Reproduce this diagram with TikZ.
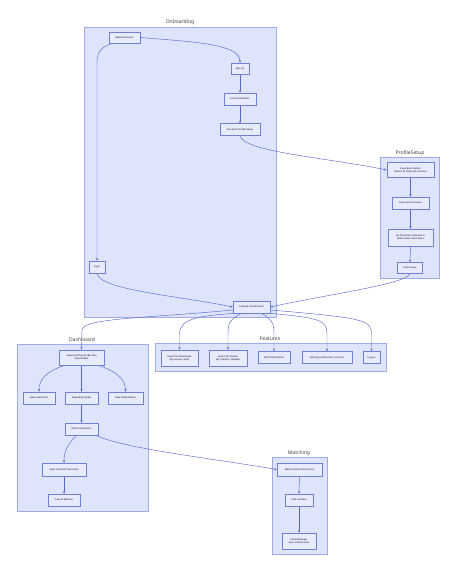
\documentclass[tikz,border=0pt]{standalone}
\usepackage{fontspec}
\setmainfont{Noto Sans}
\usetikzlibrary{arrows.meta,calc}
\definecolor{clfill}{RGB}{221,228,251}
\definecolor{cldraw}{RGB}{160,172,232}
\definecolor{ndfill}{RGB}{231,236,252}
\definecolor{nddraw}{RGB}{112,128,214}
\definecolor{edgec}{RGB}{88,104,204}
\pgfdeclarelayer{clusterl}
\pgfdeclarelayer{edgel}
\pgfsetlayers{clusterl,edgel,main}
\newcommand\mbx[5]{\node[box,minimum width=#3pt,minimum height=#4pt] (#1) at (#2) {#5};}
\begin{document}
\begin{tikzpicture}[x=1pt,y=-1pt,
  cluster/.style={draw=cldraw,fill=clfill,line width=0.6pt},
  ctitle/.style={font=\fontsize{5}{6}\selectfont,text=black!75,inner sep=0.4pt},
  box/.style={draw=nddraw,fill=ndfill,line width=0.5pt,font=\bfseries\fontsize{2.3}{2.9}\selectfont,align=center,inner sep=0pt},
  edge/.style={draw=edgec,line width=0.45pt,-{Stealth[length=2.6pt,width=2.2pt]}}]
\useasboundingbox (0,0) rectangle (458,573);
% clusters
\begin{pgfonlayer}{clusterl}
\fill[white] (0,0) rectangle (458,573);
\draw[cluster] (84,27) rectangle (276,317);
\draw[cluster] (380,157) rectangle (439,278);
\draw[cluster] (155,343) rectangle (386,371);
\draw[cluster] (17,344) rectangle (148,511);
\draw[cluster] (272,457) rectangle (327,554);
\end{pgfonlayer}
% nodes: Onboarding
\mbx{welcome}{124.5,37.5}{31}{11}{Welcome Screen}
\mbx{signup}{240,68.5}{18}{11}{Sign Up}
\mbx{email}{240,99}{32}{12}{Email Verification}
\mbx{pps}{240,129.5}{40}{12}{Proceed to Profile Setup}
\mbx{login}{97,267}{16}{12}{Login}
\mbx{dash}{251.5,307}{37}{12}{Proceed to Dashboard}
% ProfileSetup
\mbx{input}{410.5,170}{47}{15}{Input Basic Details\\(Name, ID, Major, Bio, Picture)}
\mbx{courses}{410.5,203}{37}{12}{Select Active Courses}
\mbx{prefs}{410.5,237.5}{45}{17}{Set Teammate Preferences\\(Skills, Roles, Work Style)}
\mbx{finish}{410,268}{25}{11}{Finish Setup}
% Features
\mbx{st}{179.5,358}{37}{16}{Search for Teammates\\(by courses, skills)}
\mbx{sf}{228,358}{38}{16}{Search for Friends\\(by interests, hobbies)}
\mbx{edit}{274,357.5}{32}{12}{Edit Profile Details}
\mbx{settings}{327,357.5}{50}{12}{Settings (notifications, account)}
\mbx{logout}{371.5,357.5}{17}{12}{Logout}
% Dashboard
\mbx{swipe}{81.5,357.5}{45}{15}{Swipe Interface (Tinder-like)\\View Profiles}
\mbx{left}{39,398}{32}{12}{Swipe Left (Pass)}
\mbx{right}{81.5,398}{33}{12}{Swipe Right (Like)}
\mbx{vpd}{125.5,398}{35}{12}{View Profile Details}
\mbx{matchn}{81.5,429}{33}{12}{Match Notification}
\mbx{chat}{64,469.5}{44}{13}{Open Chat with Teammate}
\mbx{all}{64,500}{32}{12}{View All Matches}
% Matching
\mbx{conf}{299.5,469.5}{45}{13}{Match Confirmation Screen}
\mbx{ci}{299,500}{28}{12}{Chat Interface}
\mbx{send}{299,541}{34}{16}{Send Messages\\(text, attachments)}
% titles
\node[ctitle] (tonb) at (180,22) {Onboarding};
\node[ctitle] (tps) at (410,153) {ProfileSetup};
\node[ctitle] (tfeat) at (270,339) {Features};
\node[ctitle,fill=white] (tdash) at (82,340) {Dashboard};
\node[ctitle] (tmatch) at (299,453) {Matching};
% edges
\begin{pgfonlayer}{edgel}
\draw[edge] (welcome.east) .. controls (195,42) and (240,44) .. (signup.north);
\draw[edge] (signup.south) -- (email.north);
\draw[edge] (email.south) -- (pps.north);
\draw[edge] ($(welcome.south)+(-12,0)$) .. controls (104,46) and (97,50) .. (97,62) -- (login.north);
\draw[edge] (login.south) .. controls (99,290) and (180,296) .. (dash.west);
\draw[edge] (pps.south) .. controls (243,152) and (330,158) .. (input.west);
\draw[edge] (input.south) -- (courses.north);
\draw[edge] (courses.south) -- (prefs.north);
\draw[edge] (prefs.south) -- (finish.north);
\draw[edge] (finish.south) .. controls (406,284) and (330,294) .. (dash.east);
\draw[edge] ($(dash.west)+(0,3)$) .. controls (150,318) and (82,318) .. (82,330) -- (swipe.north);
\draw[edge] ($(dash.south west)+(2,0)$) .. controls (200,316) and (179.5,318) .. (179.5,334) -- (st.north);
\draw[edge] ($(dash.south)+(-10,0)$) .. controls (230,320) and (228,322) .. (228,334) -- (sf.north);
\draw[edge] ($(dash.south)+(10,0)$) .. controls (272,320) and (274,322) .. (274,334) -- (edit.north);
\draw[edge] ($(dash.south east)+(-1,0)$) .. controls (320,318) and (327,320) .. (327,334) -- (settings.north);
\draw[edge] ($(dash.east)+(0,3)$) .. controls (365,318) and (371.5,320) .. (371.5,334) -- (logout.north);
\draw[edge] ($(swipe.south west)+(6,0)$) .. controls (45,372) and (39,380) .. (left.north);
\draw[edge] (swipe.south) -- (right.north);
\draw[edge] ($(swipe.south east)+(-6,0)$) .. controls (118,372) and (125.5,380) .. (vpd.north);
\draw[edge] (right.south) -- (matchn.north);
\draw[edge] ($(matchn.south)+(-5,0)$) .. controls (67,445) and (64,452) .. (chat.north);
\draw[edge] (chat.south) -- (all.north);
\draw[edge] ($(matchn.south east)+(-2,0)$) .. controls (120,448) and (210,458) .. (conf.west);
\draw[edge] (conf.south) -- (ci.north);
\draw[edge] (ci.south) -- (send.north);
\end{pgfonlayer}
\end{tikzpicture}
\end{document}
